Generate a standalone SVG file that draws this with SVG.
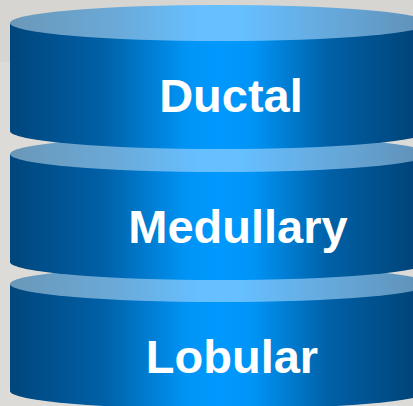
<svg xmlns="http://www.w3.org/2000/svg" width="413" height="406" viewBox="0 0 413 406">
<defs>
<linearGradient id="body" x1="10" y1="0" x2="430" y2="0" gradientUnits="userSpaceOnUse">
<stop offset="0" stop-color="#00467c"/>
<stop offset="0.22" stop-color="#0060a6"/>
<stop offset="0.42" stop-color="#0094f5"/>
<stop offset="0.5" stop-color="#0099ff"/>
<stop offset="0.58" stop-color="#0094f5"/>
<stop offset="0.76" stop-color="#0060a6"/>
<stop offset="0.95" stop-color="#00467c"/>
<stop offset="1" stop-color="#00467c"/>
</linearGradient>
<linearGradient id="top" x1="10" y1="0" x2="430" y2="0" gradientUnits="userSpaceOnUse">
<stop offset="0" stop-color="#6a98b8"/>
<stop offset="0.25" stop-color="#6aa9d8"/>
<stop offset="0.45" stop-color="#66bfff"/>
<stop offset="0.55" stop-color="#66bfff"/>
<stop offset="0.8" stop-color="#65a5d5"/>
<stop offset="1" stop-color="#5f8fb5"/>
</linearGradient>
<style>
.body{fill:url(#body)}
.top{fill:url(#top)}
.lbl{font-family:"Liberation Sans",Arial,sans-serif;font-weight:bold;font-size:47px;fill:#ffffff;text-anchor:middle}
</style>
</defs>
<rect width="413" height="406" fill="#dddbd8"/>
<rect width="413" height="62" fill="#d7d5d2"/>
<g id="lobular">
<path class="body" d="M10,284 v107 a210,18 0 0 0 420,0 v-107 z"/>
<ellipse class="top" cx="220" cy="284" rx="210" ry="18"/>
<text class="lbl" x="232" y="373">Lobular</text>
</g>
<g id="medullary">
<path class="body" d="M10,154 v108 a210,18 0 0 0 420,0 v-108 z"/>
<ellipse class="top" cx="220" cy="154" rx="210" ry="18"/>
<text class="lbl" x="238" y="243">Medullary</text>
</g>
<g id="ductal">
<path class="body" d="M10,23 v108 a210,18 0 0 0 420,0 v-108 z"/>
<ellipse class="top" cx="220" cy="23" rx="210" ry="18"/>
<text class="lbl" x="231" y="112">Ductal</text>
</g>
<g id="connectors"/>
</svg>
